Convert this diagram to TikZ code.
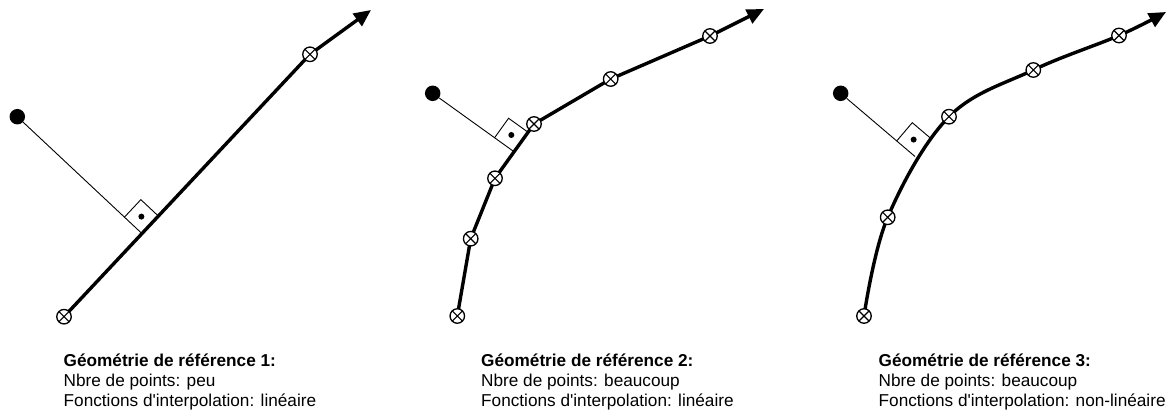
\documentclass[tikz,border=0pt]{standalone}
\usepackage{fontspec}
\setmainfont{Liberation Sans}
\usetikzlibrary{arrows.meta, calc}

% right-angle mark at foot #1 of the perpendicular from #2
\newcommand{\perpmark}[2]{%
  \coordinate (#1u) at ($(#1)!24pt!(#2)$);
  \coordinate (#1v) at ($(#1)!24pt!-90:(#2)$);
  \draw[probe] (#1u) -- ($(#1u)+(#1v)-(#1)$) -- (#1v);
  \fill ($(#1u)!0.5!(#1v)$) circle (3pt);
}

\begin{document}
\begin{tikzpicture}[x=1pt, y=-1pt,
      track/.style={line width=3.4pt, -{Triangle[length=17pt, width=15pt]}},
      probe/.style={line width=0.9pt},
      knot/.style={circle, draw, fill=white, line width=1.3pt, minimum size=14.5pt, inner sep=0pt,
        path picture={\draw[line width=1.1pt] (path picture bounding box.north west) -- (path picture bounding box.south east)
          (path picture bounding box.north east) -- (path picture bounding box.south west);}},
      src/.style={circle, fill=black, minimum size=15.5pt, inner sep=0pt},
      caption/.style={anchor=base west, align=left, inner sep=0pt, font=\fontsize{17.2}{20.4}\selectfont}]
  \useasboundingbox (0,0) rectangle (1168,412);

  % 1: few points, linear
  \coordinate (a0) at (64,316.7);
  \coordinate (a1) at (310,54.3);
  \coordinate (a2) at (371,10);
  \node[src] (pa) at (17.3,116.7) {};
  \coordinate (fa) at ($(a0)!(pa)!(a1)$);
  \draw[probe] (pa) -- (fa);
  \perpmark{fa}{pa}
  \draw[track] (a0) -- (a1) -- (a2);
  \foreach \p in {a0,a1} \node[knot] (k\p) at (\p) {};

  % 2: many points, linear
  \coordinate (b0) at (457.3,316);
  \coordinate (b1) at (470.7,238.7);
  \coordinate (b2) at (495,178.3);
  \coordinate (b3) at (534,124);
  \coordinate (b4) at (610.7,79);
  \coordinate (b5) at (710,36);
  \coordinate (b6) at (764,9);
  \node[src] (pb) at (432.7,93.3) {};
  \coordinate (fb) at ($(b2)!(pb)!(b3)$);
  \draw[probe] (pb) -- (fb);
  \perpmark{fb}{pb}
  \draw[track] (b0) -- (b1) -- (b2) -- (b3) -- (b4) -- (b5) -- (b6);
  \foreach \p in {b0,b1,b2,b3,b4,b5} \node[knot] (k\p) at (\p) {};

  % 3: many points, smooth
  \coordinate (c0) at (864,316);
  \coordinate (c1) at (887.7,217.3);
  \coordinate (c2) at (949,116.7);
  \coordinate (c3) at (1033.3,70);
  \coordinate (c4) at (1119,35.5);
  \coordinate (c5) at (1166,12);
  \node[src] (pc) at (840.7,93.3) {};
  \coordinate (fc) at (915,156.5);
  \draw[probe] (pc) -- (fc);
  \perpmark{fc}{pc}
  \draw[track] plot[smooth, tension=0.6] coordinates {(c0) (c1) (c2) (c3) (c4) (c5)};
  \foreach \p in {c0,c1,c2,c3,c4} \node[knot] (k\p) at (\p) {};

  \node[caption] (cap1) at (63.5,406.8) {\textbf{Géométrie de référence 1:}\\Nbre de points: peu\\Fonctions d\textquotesingle interpolation: linéaire};
  \node[caption] (cap2) at (481,406.8) {\textbf{Géométrie de référence 2:}\\Nbre de points: beaucoup\\Fonctions d\textquotesingle interpolation: linéaire};
  \node[caption] (cap3) at (878.5,406.8) {\textbf{Géométrie de référence 3:}\\Nbre de points: beaucoup\\Fonctions d\textquotesingle interpolation: non-linéaire};
\end{tikzpicture}
\end{document}
